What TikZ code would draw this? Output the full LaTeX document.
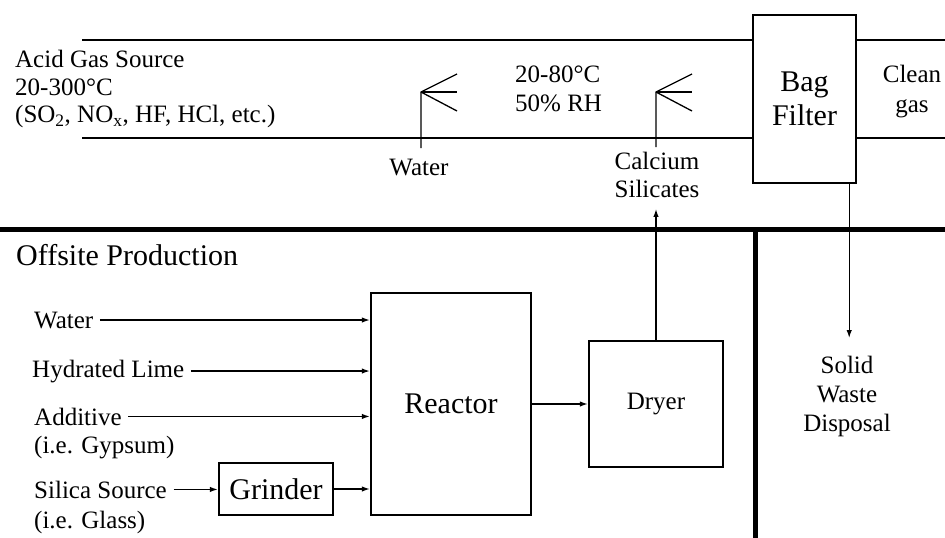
\documentclass[tikz,border=0pt]{standalone}
\usepackage{fontspec}
\setmainfont{Liberation Serif}
\usetikzlibrary{arrows.meta}
\newcommand\fsz[2]{\fontsize{#1}{#2}\selectfont}
\begin{document}
\begin{tikzpicture}[x=1pt,y=-1pt,
  lbl/.style={font=\fsz{25}{28.5}, inner sep=0pt},
  big/.style={font=\fsz{30}{34}, inner sep=0pt},
  box/.style={draw, line width=2.4pt, inner sep=0pt, font=\fsz{30}{34}, align=center},
  flow/.style={line width=1.3pt, -{Latex[length=8pt,width=5.5pt]}},
  duct/.style={line width=1.6pt},
  spray/.style={line width=1.3pt},
  divider/.style={line width=5pt}]
\useasboundingbox (0,0) rectangle (945,538);

% upper part: duct
\node[box, minimum width=103pt, minimum height=168pt] (bag) at (804.5,99) {Bag\\Filter};
\coordinate (dtl) at (82,40);
\coordinate (dbl) at (82,138);
\coordinate (dtr) at (945,40);
\coordinate (dbr) at (945,138);
\draw[duct] (dtl) -- (dtl -| bag.west);
\draw[duct] (dbl) -- (dbl -| bag.west);
\draw[duct] (bag.east |- dtr) -- (dtr);
\draw[duct] (bag.east |- dbr) -- (dbr);

\node[lbl, anchor=north west, align=left, font=\fsz{25}{27.5}] (src) at (15,50)
  {Acid Gas Source\\20-300°C\\(SO\textsubscript{2}, NO\textsubscript{x}, HF, HCl, etc.)};
\node[lbl, anchor=north west, align=left, font=\fsz{25}{29}] (cond) at (515,66) {20-80°C\\50\% RH};
\node[lbl, align=center, font=\fsz{25}{30}] (clean) at (912,91.5) {Clean\\gas};

% sprayers
\coordinate (s1) at (421,148);
\coordinate (s1h) at (421,92);
\draw[spray] (s1) -- (s1h) -- ++(36,-18);
\draw[spray] (s1h) -- ++(36,0);
\draw[spray] (s1h) -- ++(36,19);
\coordinate (s2) at (656,147);
\coordinate (s2h) at (656,92);
\draw[spray] (s2) -- (s2h) -- ++(36,-18);
\draw[spray] (s2h) -- ++(36,0);
\draw[spray] (s2h) -- ++(36,19);
\node[lbl, anchor=base] (sw) at (419,175) {Water};
\node[lbl, anchor=north, align=center, font=\fsz{25}{28}] (cs) at (657,152) {Calcium\\Silicates};

% divider
\coordinate (dl) at (0,229);
\coordinate (dr) at (945,229);
\coordinate (db) at (755,538);
\draw[divider] (dl) -- (dr);
\draw[divider] (dl -| db) -- (db);

% disposal
\node[lbl, anchor=north, align=center, font=\fsz{25}{29}] (sd) at (847,356) {Solid\\Waste\\Disposal};
\draw[flow, shorten >=18pt] ([xshift=-8pt]bag.south east) -- ([xshift=-8pt]bag.south east |- sd.north);

% offsite production
\node[big, anchor=north west] (off) at (16,244.5) {Offsite Production};
\node[box, minimum width=160pt, minimum height=222pt] (reactor) at (451,404) {Reactor};
\node[box, minimum width=134pt, minimum height=126pt, font=\fsz{25}{28}] (dryer) at (656,404) {Dryer};
\node[box, minimum width=114pt, minimum height=52pt] (grinder) at (276,489) {Grinder};

\node[lbl, anchor=base west] (iw) at (34,328) {Water};
\node[lbl, anchor=base west] (ih) at (32,377) {Hydrated Lime};
\node[lbl, anchor=base west] (ia) at (34,425) {Additive};
\node[lbl, anchor=base west] (ig) at (34,453) {(i.e. Gypsum)};
\node[lbl, anchor=base west] (is) at (34,498) {Silica Source};
\node[lbl, anchor=base west] (il) at (34,528) {(i.e. Glass)};

\draw[flow, shorten <=6.5pt] (iw.east) -- (iw.east -| reactor.west);
\draw[flow, shorten <=6.5pt] (ih.east) -- (ih.east -| reactor.west);
\draw[flow, shorten <=6.5pt] (ia.east) -- (ia.east -| reactor.west);
\draw[flow, shorten <=6.5pt] (is.east) -- (is.east -| grinder.west);
\draw[flow] (grinder.east) -- (grinder.east -| reactor.west);
\draw[flow] (reactor.east) -- (dryer.west);
\draw[flow, shorten >=11pt] (dryer.north) -- (dryer.north |- cs.south);
\end{tikzpicture}
\end{document}
